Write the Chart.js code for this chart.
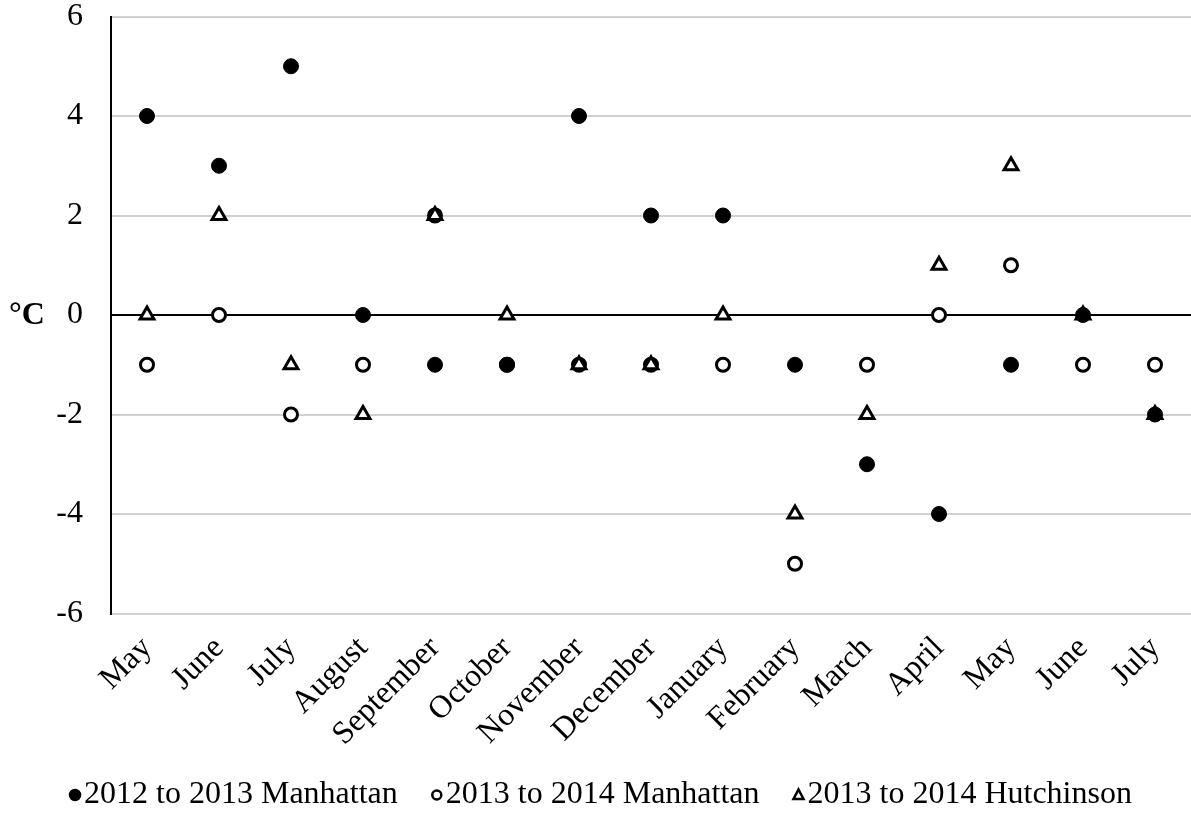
<!DOCTYPE html>
<html>
<head>
<meta charset="utf-8">
<script src="https://cdn.jsdelivr.net/npm/chart.js@4.4.1/dist/chart.umd.min.js"></script>
<style>
  html, body { margin: 0; padding: 0; background: #fff; overflow: hidden; }
  #wrap { width: 1191px; height: 822px; position: relative; overflow: hidden; }
  #c { display: block; }
</style>
</head>
<body>
<div id="wrap"><canvas id="c" width="1202" height="822"></canvas></div>
<script>
const categories = ['May','June','July','August','September','October','November','December','January','February','March','April','May','June','July'];
const manhattan2012 = [4, 3, 5, 0, -1, -1, 4, 2, 2, -1, -3, -4, -1, 0, -2];
const manhattan2013 = [-1, 0, -2, -1, 2, -1, -1, -1, -1, -5, -1, 0, 1, -1, -1];
const hutchinson2013 = [0, 2, -1, -2, 2, 0, -1, -1, 0, -4, -2, 1, 3, 0, -2];
const seriesNames = ['2012 to 2013 Manhattan', '2013 to 2014 Manhattan', '2013 to 2014 Hutchinson'];
const yTicks = [-6, -4, -2, 0, 2, 4, 6];
const yUnit = '°C';

const FONT = "'Liberation Serif', 'Times New Roman', serif";
const FS = 32;
const VIEW_W = 1191;

const unitLabel = {
  id: 'unitLabel',
  afterDraw(chart) {
    const ctx = chart.ctx;
    const y = chart.scales.y.getPixelForValue(0);
    ctx.save();
    ctx.font = 'bold ' + FS + 'px ' + FONT;
    ctx.fillStyle = '#000';
    ctx.textAlign = 'left';
    ctx.textBaseline = 'middle';
    ctx.fillText(yUnit, 9, y + 1);
    ctx.restore();
  }
};

const customLegend = {
  id: 'customLegend',
  afterDraw(chart) {
    const ctx = chart.ctx;
    ctx.save();
    ctx.font = FS + 'px ' + FONT;
    ctx.textBaseline = 'middle';
    ctx.textAlign = 'left';
    const markW = 12, gapMark = 3, gapItem = 33;
    const items = chart.data.datasets.map(ds => ({ds, w: ctx.measureText(ds.label).width}));
    let total = 0;
    items.forEach((it, i) => { total += markW + gapMark + it.w + (i < items.length - 1 ? gapItem : 0); });
    let x = VIEW_W / 2 - total / 2 + 5;
    const y = 795;
    items.forEach(it => {
      const ds = it.ds;
      const cx = x + markW / 2;
      ctx.fillStyle = ds.backgroundColor;
      ctx.strokeStyle = '#000';
      ctx.lineWidth = 2.5;
      ctx.beginPath();
      if (ds.pointStyle === 'circle') {
        ctx.arc(cx, y, ds.backgroundColor === '#000' ? 5 : 4.5, 0, Math.PI * 2);
      } else {
        ctx.moveTo(cx, y - 5.5);
        ctx.lineTo(cx + 5, y + 4);
        ctx.lineTo(cx - 5, y + 4);
        ctx.closePath();
      }
      ctx.fill();
      ctx.stroke();
      ctx.fillStyle = '#000';
      ctx.fillText(ds.label, x + markW + gapMark, y);
      x += markW + gapMark + it.w + gapItem;
    });
    ctx.restore();
  }
};

new Chart(document.getElementById('c'), {
  type: 'scatter',
  data: {
    labels: categories,
    datasets: [
      {
        label: seriesNames[0],
        data: manhattan2012,
        pointStyle: 'circle',
        pointRadius: 7.5,
        pointHoverRadius: 7.5,
        backgroundColor: '#000',
        borderColor: '#000',
        borderWidth: 1,
        showLine: false,
        order: 0
      },
      {
        label: seriesNames[1],
        data: manhattan2013,
        pointStyle: 'circle',
        pointRadius: 6.5,
        pointHoverRadius: 6.5,
        backgroundColor: '#fff',
        borderColor: '#000',
        borderWidth: 3,
        showLine: false,
        order: 2
      },
      {
        label: seriesNames[2],
        data: hutchinson2013,
        pointStyle: 'triangle',
        pointRadius: 8,
        pointHoverRadius: 8,
        backgroundColor: '#fff',
        borderColor: '#000',
        borderWidth: 3,
        showLine: false,
        order: 1
      }
    ]
  },
  options: {
    responsive: false,
    animation: false,
    devicePixelRatio: 1,
    layout: { padding: { top: 16.5, left: 0, right: 0, bottom: 0 } },
    plugins: {
      legend: { display: false },
      tooltip: { enabled: false }
    },
    scales: {
      x: {
        type: 'category',
        labels: categories,
        offset: true,
        grid: { display: false, drawTicks: false },
        border: { display: false },
        ticks: {
          autoSkip: false,
          minRotation: 45,
          maxRotation: 45,
          padding: 16,
          color: '#000',
          font: { family: FONT, size: FS }
        },
        afterFit(scale) {
          scale.height = 208.5;
          scale.paddingLeft = 0;
          scale.paddingRight = 0;
        }
      },
      y: {
        type: 'linear',
        min: -6,
        max: 6,
        afterBuildTicks(scale) {
          scale.ticks = yTicks.map(v => ({ value: v }));
        },
        grid: {
          drawTicks: false,
          lineWidth: 2,
          color: ctx => (ctx.tick && ctx.tick.value === 0) ? '#000' : '#d0d0d0'
        },
        border: { display: true, color: '#000', width: 2 },
        ticks: {
          padding: 28,
          color: '#000',
          font: { family: FONT, size: FS }
        },
        afterFit(scale) {
          scale.width = 111;
          scale.paddingTop = 0;
          scale.paddingBottom = 0;
        }
      }
    }
  },
  plugins: [unitLabel, customLegend]
});
</script>
</body>
</html>
